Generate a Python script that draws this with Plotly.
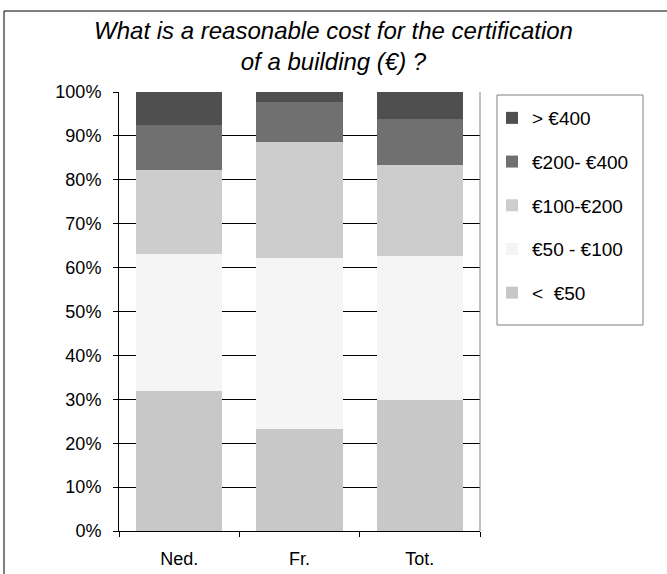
import plotly.graph_objects as go

categories = ["Ned.", "Fr.", "Tot."]
series_names = ["<  €50", "€50 - €100", "€100-€200", "€200- €400", "> €400"]
lt50 = [31.9, 23.2, 29.8]
e50_100 = [31.3, 39.0, 32.8]
e100_200 = [19.0, 26.4, 20.8]
e200_400 = [10.3, 9.1, 10.4]
gt400 = [7.5, 2.3, 6.2]
series_values = [lt50, e50_100, e100_200, e200_400, gt400]
colors = ["#c8c8c8", "#f5f5f5", "#cdcdcd", "#707070", "#4f4f4f"]
y_ticks = [0, 10, 20, 30, 40, 50, 60, 70, 80, 90, 100]
y_tick_labels = [f"{v}%" for v in y_ticks]

fig = go.Figure()
n = len(series_names)
for i, (name, vals, col) in enumerate(zip(series_names, series_values, colors)):
    fig.add_trace(go.Bar(
        x=categories, y=vals, name=name, marker=dict(color=col, line=dict(width=0)),
        legendgroup=f"g{i}", legendrank=1000 + (n - i),
    ))

font = "Liberation Sans, Arial, sans-serif"
W, H = 667, 574
L, R, T, B = 119, 480, 92, 531
fig.update_layout(
    barmode="stack",
    bargap=0.28,
    width=W, height=H,
    margin=dict(l=L, r=W - R, t=T, b=H - B, autoexpand=False),
    paper_bgcolor="white", plot_bgcolor="white",
    font=dict(family=font, size=18, color="black"),
    title=dict(
        text="<i>What is a reasonable cost for the certification<br>of a building (€) ?</i>",
        x=0.5, xanchor="center", xref="container", y=0.932, yanchor="top", yref="container",
        font=dict(size=24, family=font, color="black"),
    ),
    legend=dict(
        x=(492 - L) / (R - L), y=(B - 99) / (B - T), xanchor="left", yanchor="top",
        traceorder="grouped", tracegroupgap=16,
        borderwidth=0, bgcolor="rgba(0,0,0,0)",
        font=dict(size=19, family=font),
    ),
    showlegend=True,
)
fig.update_yaxes(
    range=[0, 100], tickvals=y_ticks, ticktext=y_tick_labels,
    showgrid=True, gridcolor="black", gridwidth=1,
    showline=True, linecolor="black", linewidth=1,
    ticks="outside", ticklen=5, tickcolor="black", ticklabelstandoff=8,
    zeroline=False, fixedrange=True,
)
fig.update_xaxes(
    showline=True, linecolor="black", linewidth=1,
    ticks="outside", ticklen=5, tickcolor="black", tickson="boundaries",
    ticklabelstandoff=11, showgrid=False,
)
# right border of plot area
fig.add_shape(type="line", xref="paper", yref="paper", x0=1, x1=1, y0=0, y1=1,
              line=dict(color="#808080", width=1))
# legend frame
fig.add_shape(type="rect", xref="paper", yref="paper",
              x0=(497 - L) / (R - L), x1=(643 - L) / (R - L),
              y0=(B - 325) / (B - T), y1=(B - 95) / (B - T),
              line=dict(color="#808080", width=1), fillcolor="white", layer="below")
# outer chart frame
fig.add_shape(type="rect", xref="paper", yref="paper",
              x0=(4 - L) / (R - L), x1=(700 - L) / (R - L),
              y0=(B - 600) / (B - T), y1=(B - 11) / (B - T),
              line=dict(color="black", width=1), layer="below")
fig.write_html("out.html", config={"displayModeBar": False},
               post_script="document.body.style.margin='0';")
